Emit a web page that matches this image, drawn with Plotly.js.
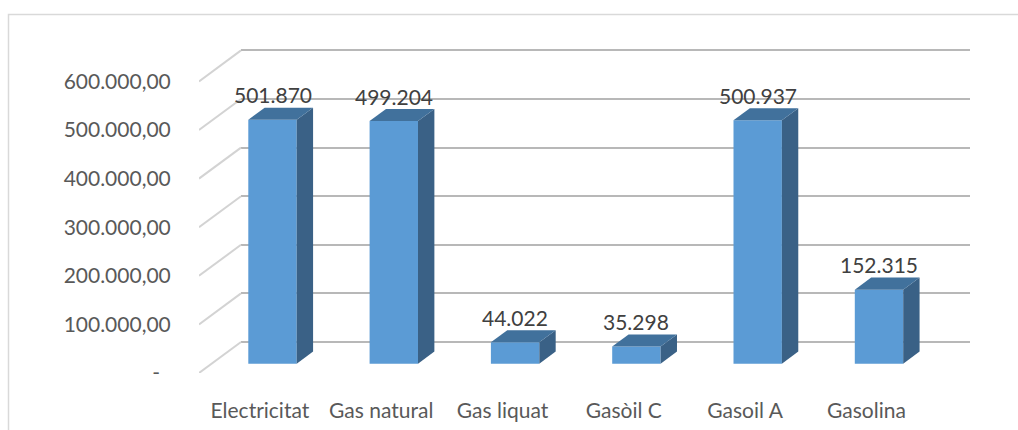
<!DOCTYPE html>
<html>
<head>
<meta charset="utf-8">
<script src="https://cdn.plot.ly/plotly-3.0.1.min.js"></script>
<style>html,body{margin:0;padding:0;background:#fff;}#chart{width:1018px;height:430px;}</style>
</head>
<body>
<div id="chart"></div>
<script>
// ---- data ----
const categories = ['Electricitat', 'Gas natural', 'Gas liquat', 'Gasòil C', 'Gasoil A', 'Gasolina'];
const values = [501870, 499204, 44022, 35298, 500937, 152315];
const yTickVals = [0, 100000, 200000, 300000, 400000, 500000, 600000];

function fmtInt(n) {
  return String(Math.round(n)).replace(/\B(?=(\d{3})+(?!\d))/g, '.');
}
const yTickText = yTickVals.map(v => v === 0 ? '-\u00a0\u00a0' : fmtInt(v) + ',00');
const labelText = values.map(fmtInt);

// ---- geometry (pixels) ----
const W = 1018, H = 430;
const FRONT_LEFT = 199, RIGHT = 970, FRONT_ZERO = 373, TOP = 40;
const CAT0 = 259.9, CAT_STEP = 121.3, K = 48.6 / 100000;
const DEPTH_X = 42, DEPTH_Y = 31;
const BAR_FRONT_D = 0.3, BAR_DEPTH_D = 0.39, BAR_W_PX = 48.4;
const dxU = px => px / CAT_STEP;
const dyU = px => px / K;

const xRange = [(FRONT_LEFT - CAT0) / CAT_STEP, (RIGHT - CAT0) / CAT_STEP];
const yMax = (FRONT_ZERO - TOP) / K;

const barOffX = dxU(DEPTH_X * BAR_FRONT_D);
const barBase = dyU(DEPTH_Y * BAR_FRONT_D);
const barW = BAR_W_PX / CAT_STEP;
const bdx = dxU(DEPTH_X * BAR_DEPTH_D);
const bdy = dyU(DEPTH_Y * BAR_DEPTH_D);

const FRONT = '#5b9bd5', TOPC = '#41719c', SIDE = '#3a6186';
const FONT = 'Lato, "Open Sans", sans-serif';

const traces = [];
// invisible trace so the back-wall subplot is drawn
traces.push({type: 'scatter', mode: 'markers', x: [0.5], y: [0], xaxis: 'x', yaxis: 'y',
  marker: {opacity: 0, size: 1}, hoverinfo: 'skip', showlegend: false});

// diagonal floor/wall lines on the left side
const dgx = [], dgy = [];
yTickVals.forEach(v => {
  dgx.push(xRange[0], xRange[0] + dxU(DEPTH_X), null);
  dgy.push(v, v + dyU(DEPTH_Y), null);
});
traces.push({type: 'scatter', mode: 'lines', x: dgx, y: dgy, xaxis: 'x2', yaxis: 'y2',
  line: {color: '#d3d3d3', width: 2}, cliponaxis: false, hoverinfo: 'skip', showlegend: false});

// front faces
traces.push({type: 'bar', x: categories.map((c, i) => i + barOffX), y: values,
  base: values.map(() => barBase), width: barW, xaxis: 'x2', yaxis: 'y2',
  marker: {color: FRONT, line: {width: 0}}, cliponaxis: false, hoverinfo: 'skip', showlegend: false});

// side and top faces
values.forEach((v, i) => {
  const xl = i + barOffX - barW / 2, xr = i + barOffX + barW / 2;
  const yb = barBase, yt = barBase + v;
  traces.push({type: 'scatter', mode: 'lines', fill: 'toself', fillcolor: SIDE,
    x: [xr, xr + bdx, xr + bdx, xr, xr], y: [yb, yb + bdy, yt + bdy, yt, yb],
    line: {width: 0, color: SIDE}, xaxis: 'x2', yaxis: 'y2', cliponaxis: false,
    hoverinfo: 'skip', showlegend: false});
  traces.push({type: 'scatter', mode: 'lines', fill: 'toself', fillcolor: TOPC,
    x: [xl, xr, xr + bdx, xl + bdx, xl], y: [yt, yt, yt + bdy, yt + bdy, yt],
    line: {width: 0, color: TOPC}, xaxis: 'x2', yaxis: 'y2', cliponaxis: false,
    hoverinfo: 'skip', showlegend: false});
});

const annotations = values.map((v, i) => ({
  x: i + barOffX, y: barBase + v, xref: 'x2', yref: 'y2', text: labelText[i],
  showarrow: false, yanchor: 'middle', xanchor: 'center', yshift: 25,
  font: {family: FONT, size: 21, color: '#404040'}
}));

const layout = {
  width: W, height: H,
  margin: {l: 0, r: 0, t: 0, b: 0, pad: 0},
  paper_bgcolor: '#ffffff', plot_bgcolor: 'rgba(0,0,0,0)',
  showlegend: false,
  // back wall
  xaxis: {domain: [(FRONT_LEFT + DEPTH_X) / W, RIGHT / W], anchor: 'y', range: [0, 1],
    showgrid: false, zeroline: false, showline: false, showticklabels: false, ticks: '', fixedrange: true},
  yaxis: {domain: [(H - FRONT_ZERO + DEPTH_Y) / H, (H - TOP + DEPTH_Y) / H], anchor: 'x', range: [0, yMax],
    tickvals: yTickVals, showgrid: true, gridcolor: '#b8b8b8', gridwidth: 2,
    zeroline: true, zerolinecolor: '#b8b8b8', zerolinewidth: 2,
    showline: false, showticklabels: false, ticks: '', fixedrange: true},
  // front frame
  xaxis2: {domain: [FRONT_LEFT / W, RIGHT / W], anchor: 'y2', range: xRange,
    tickvals: categories.map((c, i) => i), ticktext: categories,
    showgrid: false, zeroline: false, showline: false,
    ticks: 'outside', ticklen: 19, tickcolor: 'rgba(0,0,0,0)',
    tickfont: {family: FONT, size: 21, color: '#595959'}, fixedrange: true},
  yaxis2: {domain: [(H - FRONT_ZERO) / H, (H - TOP) / H], anchor: 'x2', range: [0, yMax],
    tickvals: yTickVals, ticktext: yTickText,
    showgrid: false, zeroline: false, showline: false,
    ticks: 'outside', ticklen: 23, tickcolor: 'rgba(0,0,0,0)',
    tickfont: {family: FONT, size: 21, color: '#595959'}, fixedrange: true},
  annotations: annotations,
  shapes: [{type: 'rect', xref: 'paper', yref: 'paper',
    x0: 8.5 / W, x1: 1040 / W, y0: -20 / H, y1: (H - 14.5) / H,
    line: {color: '#d9d9d9', width: 1.5}, fillcolor: 'rgba(0,0,0,0)', layer: 'below'}]
};

Plotly.newPlot('chart', traces, layout, {displayModeBar: false, staticPlot: true});
</script>
</body>
</html>
